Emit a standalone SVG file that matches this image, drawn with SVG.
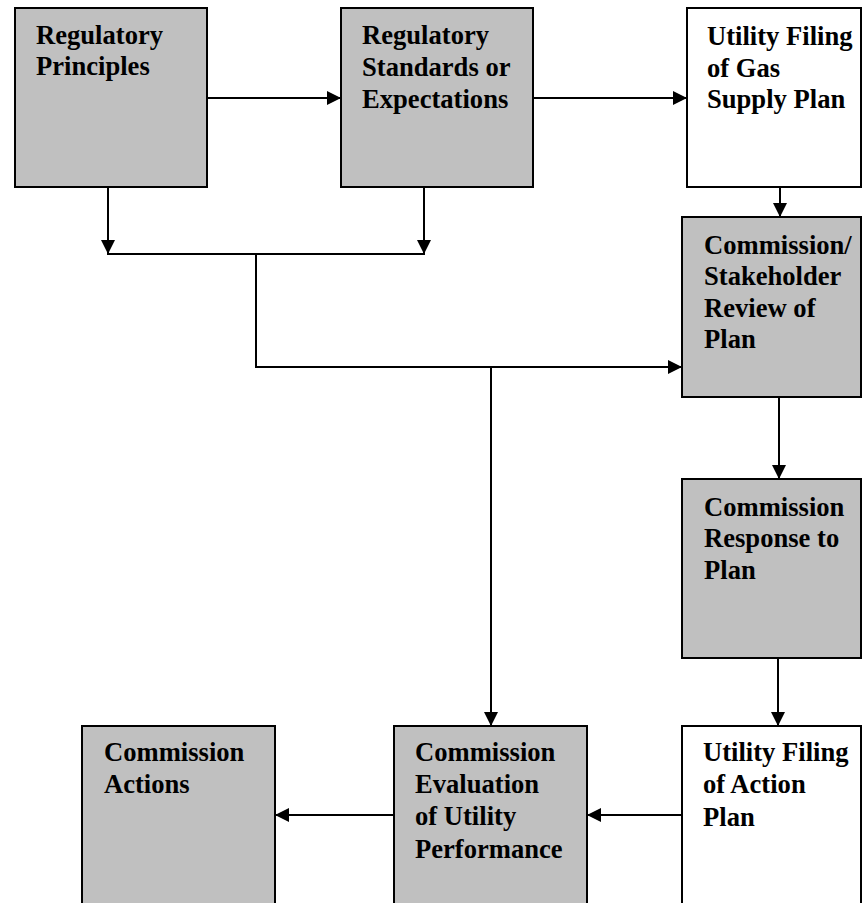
<svg xmlns="http://www.w3.org/2000/svg" width="863" height="903" viewBox="0 0 863 903">
<style>
.box{stroke:#000;stroke-width:2}
.g{fill:#c0c0c0}
.w{fill:#fff}
.t{font-family:"Liberation Serif","Times New Roman",serif;font-weight:bold;font-size:26.6px;fill:#000}
.c{fill:none;stroke:#000;stroke-width:2}
</style>
<defs>
<marker id="ah" markerUnits="userSpaceOnUse" markerWidth="15" markerHeight="15" refX="14" refY="7" orient="auto">
<path d="M0,0 L14,7 L0,14 z" fill="#000"/>
</marker>
</defs>
<rect width="863" height="903" fill="#fff"/>
<g id="n1">
<rect class="box g" x="15" y="8" width="192" height="179"/>
<text class="t" x="36" y="44">Regulatory</text>
<text class="t" x="36" y="75">Principles</text>
</g>
<g id="n2">
<rect class="box g" x="341" y="8" width="192" height="179"/>
<text class="t" x="362" y="44">Regulatory</text>
<text class="t" x="362" y="76">Standards or</text>
<text class="t" x="362" y="108">Expectations</text>
</g>
<g id="n3">
<rect class="box w" x="687" y="8" width="174" height="179"/>
<text class="t" x="707" y="45">Utility Filing</text>
<text class="t" x="707" y="77">of Gas</text>
<text class="t" x="707" y="108">Supply Plan</text>
</g>
<g id="n4">
<rect class="box g" x="682" y="217" width="179" height="180"/>
<text class="t" x="704" y="254">Commission/</text>
<text class="t" x="704" y="285">Stakeholder</text>
<text class="t" x="704" y="317">Review of</text>
<text class="t" x="704" y="348">Plan</text>
</g>
<g id="n5">
<rect class="box g" x="682" y="479" width="179" height="179"/>
<text class="t" x="704" y="516">Commission</text>
<text class="t" x="704" y="547">Response to</text>
<text class="t" x="704" y="579">Plan</text>
</g>
<g id="n6">
<rect class="box w" x="682" y="726" width="179" height="190"/>
<text class="t" x="703" y="761">Utility Filing</text>
<text class="t" x="703" y="793">of Action</text>
<text class="t" x="703" y="826">Plan</text>
</g>
<g id="n7">
<rect class="box g" x="394" y="726" width="193" height="190"/>
<text class="t" x="415" y="761">Commission</text>
<text class="t" x="415" y="793">Evaluation</text>
<text class="t" x="415" y="825">of Utility</text>
<text class="t" x="415" y="858">Performance</text>
</g>
<g id="n8">
<rect class="box g" x="82" y="726" width="193" height="190"/>
<text class="t" x="104" y="761">Commission</text>
<text class="t" x="104" y="793">Actions</text>
</g>
<g id="connectors">
<line class="c" x1="207" y1="98" x2="341" y2="98" marker-end="url(#ah)"/>
<line class="c" x1="533" y1="98" x2="687" y2="98" marker-end="url(#ah)"/>
<line class="c" x1="108" y1="187" x2="108" y2="254" marker-end="url(#ah)"/>
<line class="c" x1="424" y1="187" x2="424" y2="254" marker-end="url(#ah)"/>
<line class="c" x1="107" y1="254" x2="425" y2="254"/>
<polyline class="c" points="256,254 256,367 682,367" marker-end="url(#ah)"/>
<line class="c" x1="491" y1="367" x2="491" y2="726" marker-end="url(#ah)"/>
<line class="c" x1="780" y1="187" x2="780" y2="217" marker-end="url(#ah)"/>
<line class="c" x1="779" y1="397" x2="779" y2="479" marker-end="url(#ah)"/>
<line class="c" x1="778" y1="658" x2="778" y2="726" marker-end="url(#ah)"/>
<line class="c" x1="682" y1="815" x2="587" y2="815" marker-end="url(#ah)"/>
<line class="c" x1="394" y1="815" x2="275" y2="815" marker-end="url(#ah)"/>
</g>
</svg>
